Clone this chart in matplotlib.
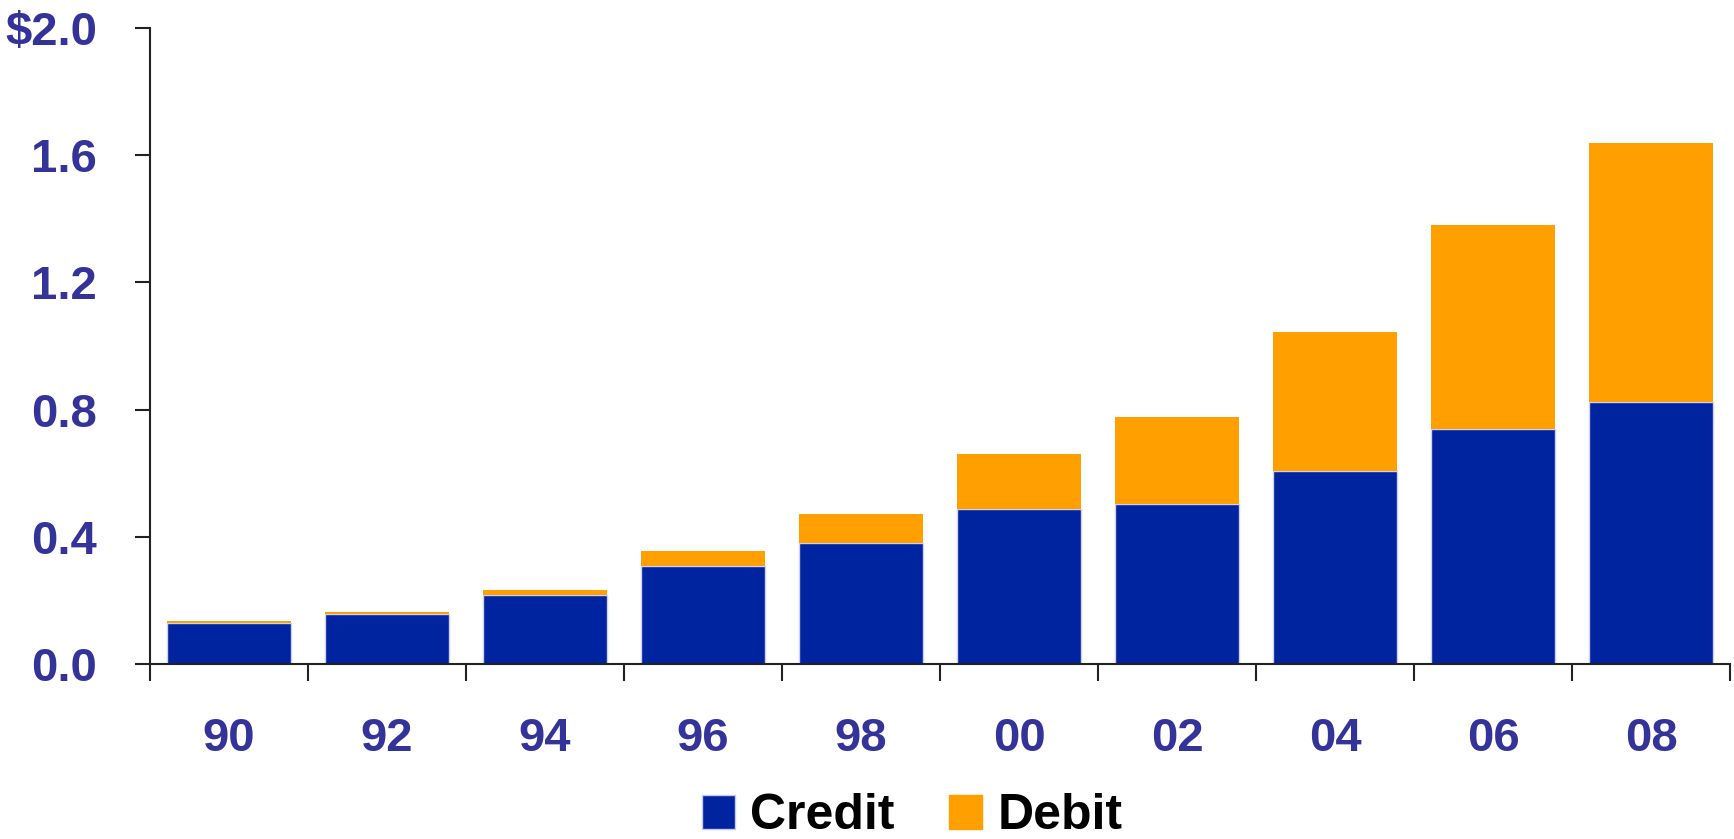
import matplotlib
matplotlib.use('Agg')
import matplotlib.pyplot as plt
from matplotlib.patches import Patch

# valores (billones de dolares)
years = ['90', '92', '94', '96', '98', '00', '02', '04', '06', '08']
credit = [0.130, 0.157, 0.218, 0.309, 0.381, 0.486, 0.503, 0.607, 0.739, 0.823]
debit = [0.005, 0.006, 0.015, 0.045, 0.091, 0.173, 0.274, 0.438, 0.642, 0.816]
yticks = [0.0, 0.4, 0.8, 1.2, 1.6, 2.0]
ytick_labels = ['0.0', '0.4', '0.8', '1.2', '1.6', '\\$2.0']

plt.rcParams['font.family'] = ['Liberation Sans', 'DejaVu Sans']
plt.rcParams['font.weight'] = 'bold'

c_credit = '#0023a0'
c_debit = '#ff9f00'
c_label = '#333399'

fig = plt.figure(figsize=(17.34, 8.39), dpi=100)
ax = fig.add_axes([0.0865, 0.2086, 0.9112, 0.758])

x = list(range(len(years)))
ax.bar(x, credit, width=0.78, color=c_credit, edgecolor='#d0d0f4', linewidth=1.0, zorder=2)
ax.bar(x, debit, bottom=credit, width=0.78, color=c_debit, linewidth=0, zorder=2)

ax.set_xlim(-0.5, len(years) - 0.5)
ax.set_ylim(0, 2.0)

ax.set_yticks(yticks)
ax.set_yticklabels(ytick_labels)
ax.set_xticks(x)
ax.set_xticklabels(years)
ax.set_xticks([i + 0.5 for i in range(-1, len(years))], minor=True)

ax.tick_params(axis='y', direction='out', length=11, width=1.5, color='#222222',
               pad=27, labelsize=34, labelcolor=c_label)
ax.tick_params(axis='x', which='major', length=0, pad=38, labelsize=34, labelcolor=c_label)
ax.tick_params(axis='x', which='minor', direction='out', length=12, width=1.5, color='#222222')

for s in ['top', 'right']:
    ax.spines[s].set_visible(False)
for s in ['left', 'bottom']:
    ax.spines[s].set_linewidth(1.5)
    ax.spines[s].set_color('#222222')

handles = [Patch(facecolor=c_credit, edgecolor='#c8c8f0', label='Credit'),
           Patch(facecolor=c_debit, edgecolor=c_debit, label='Debit')]
fig.legend(handles=handles, loc='center', bbox_to_anchor=(0.526, 0.027), ncol=2,
           frameon=False, prop={'size': 36, 'weight': 'bold'},
           handlelength=0.66, handleheight=0.66, handletextpad=0.3, columnspacing=1.1,
           borderpad=0, borderaxespad=0)

fig.savefig('out.png', dpi=100)
